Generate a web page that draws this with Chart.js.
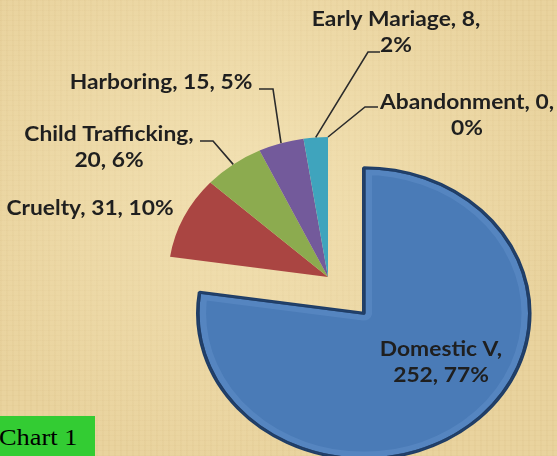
<!DOCTYPE html>
<html>
<head>
<meta charset="utf-8">
<script src="https://cdn.jsdelivr.net/npm/chart.js@4/dist/chart.umd.min.js"></script>
<style>
    html, body { margin: 0; padding: 0; }
    body {
        width: 557px; height: 456px; overflow: hidden; position: relative;
        background-color: #e9d39e;
        background-image:
            radial-gradient(ellipse at 45% 40%, rgba(248, 234, 192, 0.6) 0%, rgba(248, 234, 192, 0) 75%),
            repeating-linear-gradient(90deg, rgba(170, 130, 60, 0.045) 0px, rgba(170, 130, 60, 0.045) 2px, transparent 2px, transparent 6px),
            repeating-linear-gradient(0deg, rgba(170, 130, 60, 0.04) 0px, rgba(170, 130, 60, 0.04) 1px, transparent 1px, transparent 5px);
    }
    #pieChart { position: absolute; left: 0; top: 0; }
    #tag {
        position: absolute; left: 0; top: 416px; width: 95px; height: 40px;
        background: #33cc33; color: #000;
        font-family: "Liberation Serif", serif; font-size: 24px; line-height: 42px;
        white-space: nowrap; overflow: hidden;
    }
    #tag span { display: inline-block; transform: scaleX(1.1); transform-origin: 0 50%; margin-left: -1px; }
</style>
</head>
<body>
<canvas id="pieChart" width="557" height="456"></canvas>
<div id="tag"><span>Chart 1</span></div>
<script>
// data
const categories = ['Domestic V', 'Cruelty', 'Child Trafficking', 'Harboring', 'Early Mariage', 'Abandonment'];
const caseCounts = [252, 31, 20, 15, 8, 0];
const sliceColors = ['#4a7bb7', '#aa4542', '#8cab4f', '#735a9b', '#3fa4bd', '#f79646'];

// layout of the data labels (text centre, words on first line, leader elbow points)
const labelLayout = [
    { x: 441, y: 350, firstLine: 1, leader: null },
    { x: 90,  y: 209, firstLine: 3, leader: null },
    { x: 109, y: 135, firstLine: 1, leader: [[213, 141], [200, 141]] },
    { x: 161, y: 83,  firstLine: 3, leader: [[273, 89], [259, 89]] },
    { x: 396, y: 20,  firstLine: 2, leader: [[368, 52], [380, 52]] },
    { x: 467, y: 103, firstLine: 2, leader: [[365, 107], [378, 107]] }
];
const explodeBy = [48, 0, 0, 0, 0, 0];
const sliceScale = [1.04, 1, 1, 1, 1, 1];
const bevelled = [true, false, false, false, false, false];

const STRETCH_X = 1.14;   // whole picture is a bit wider than tall
const total = caseCounts.reduce((s, v) => s + v, 0);

const stretchPlugin = {
    id: 'stretch',
    beforeDatasetsDraw(chart) {
        const arc = chart.getDatasetMeta(0).data[0];
        const ctx = chart.ctx;
        ctx.save();
        ctx.translate(arc.x, 0);
        ctx.scale(STRETCH_X, 1);
        ctx.translate(-arc.x, 0);
    },
    // draw each slice ourselves so the exploded one keeps its radius
    beforeDatasetDraw(chart, args) {
        const ctx = chart.ctx;
        args.meta.data.forEach((arc, i) => {
            if (arc.circumference === 0) return;
            const mid = (arc.startAngle + arc.endAngle) / 2;
            ctx.save();
            ctx.translate(Math.cos(mid) * explodeBy[i], Math.sin(mid) * explodeBy[i]);
            ctx.translate(arc.x, arc.y);
            ctx.scale(sliceScale[i], sliceScale[i]);
            ctx.translate(-arc.x, -arc.y);
            arc.draw(ctx, chart.chartArea);

            if (bevelled[i]) {
                ctx.beginPath();
                ctx.moveTo(arc.x, arc.y);
                ctx.arc(arc.x, arc.y, arc.outerRadius, arc.startAngle, arc.endAngle);
                ctx.closePath();
                ctx.save();
                ctx.clip();
                ctx.lineJoin = 'round';
                ctx.lineWidth = 14;
                ctx.strokeStyle = 'rgba(120, 165, 220, 0.25)';
                ctx.stroke();
                ctx.lineWidth = 3;
                ctx.strokeStyle = '#1f3d66';
                ctx.stroke();
                ctx.restore();
            }
            ctx.restore();
        });
        return false;
    },
    afterDatasetsDraw(chart) {
        chart.ctx.restore();
    }
};

const labelPlugin = {
    id: 'pieLabels',
    afterDraw(chart) {
        const ctx = chart.ctx;
        const arcs = chart.getDatasetMeta(0).data;
        ctx.save();
        ctx.font = "bold 20px Lato, 'Open Sans', sans-serif";
        ctx.fillStyle = '#1f1f1f';
        ctx.textAlign = 'center';
        ctx.textBaseline = 'middle';
        ctx.strokeStyle = '#2b2b2b';
        ctx.lineWidth = 1.6;

        arcs.forEach((arc, i) => {
            const lay = labelLayout[i];
            const pct = Math.round(caseCounts[i] / total * 100);
            const parts = [categories[i] + ',', caseCounts[i] + ',', pct + '%'];
            const lines = [parts.slice(0, lay.firstLine).join(' ')];
            if (lay.firstLine < parts.length) lines.push(parts.slice(lay.firstLine).join(' '));
            lines.forEach((t, k) => {
                ctx.save();
                ctx.translate(lay.x, lay.y + k * 26);
                ctx.scale(STRETCH_X, 1);
                ctx.fillText(t, 0, 0);
                ctx.restore();
            });

            if (lay.leader) {
                const p = arc.getProps(['x', 'y', 'startAngle', 'endAngle', 'outerRadius'], true);
                const mid = (p.startAngle + p.endAngle) / 2;
                ctx.beginPath();
                ctx.moveTo(p.x + STRETCH_X * p.outerRadius * Math.cos(mid), p.y + p.outerRadius * Math.sin(mid));
                lay.leader.forEach(pt => ctx.lineTo(pt[0], pt[1]));
                ctx.stroke();
            }
        });
        ctx.restore();
    }
};

new Chart(document.getElementById('pieChart').getContext('2d'), {
    type: 'pie',
    data: {
        labels: categories,
        datasets: [{
            data: caseCounts,
            backgroundColor: sliceColors,
            borderColor: ['#1f3d66', 'rgba(0,0,0,0)', 'rgba(0,0,0,0)', 'rgba(0,0,0,0)', 'rgba(0,0,0,0)', 'rgba(0,0,0,0)'],
            borderWidth: [3, 0, 0, 0, 0, 0],
            radius: 140,
            clip: false
        }]
    },
    options: {
        responsive: false,
        animation: false,
        layout: { padding: { left: 99, right: 0, top: 98, bottom: 0 } },
        plugins: {
            legend: { display: false },
            tooltip: { enabled: false }
        }
    },
    plugins: [stretchPlugin, labelPlugin]
});
</script>
</body>
</html>
